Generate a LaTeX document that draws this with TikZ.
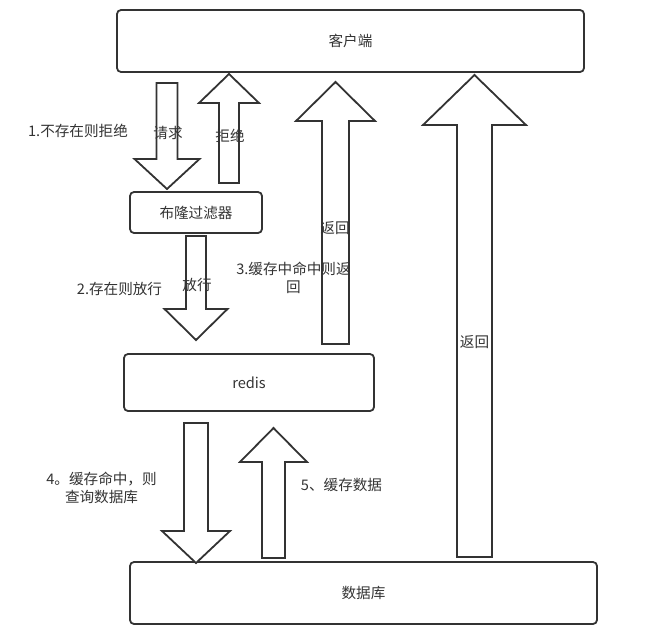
\documentclass[tikz,border=0pt]{standalone}
\usepackage{fontspec}
\setmainfont{Noto Sans CJK SC}
\usetikzlibrary{calc}
\definecolor{inkgray}{HTML}{333333}

% hollow block arrow: from, to, shaft half width, head half width, head length
\newcommand{\blockarrow}[5]{%
  \coordinate (hb) at ($(#2)!#5pt!(#1)$);
  \draw[blk] ($(#1)+(-#3,0)$) -- ($(hb)+(-#3,0)$) -- ($(hb)+(-#4,0)$) -- (#2)
    -- ($(hb)+(#4,0)$) -- ($(hb)+(#3,0)$) -- ($(#1)+(#3,0)$) -- cycle;
}

\begin{document}
\begin{tikzpicture}[
  x=1pt, y=-1pt,
  txt/.style={text=inkgray, font=\fontsize{14.6}{18}\selectfont, inner sep=0pt, align=center},
  box/.style={txt, draw=inkgray, line width=1.8pt, rounded corners=4pt},
  blk/.style={draw=inkgray, line width=1.8pt, line join=miter, fill=white}
]
\useasboundingbox (0,0) rectangle (665,629);

%================================================
% BOXES
%================================================
\node[box, minimum width=467pt, minimum height=62pt] (client) at (350.5,41) {客户端};
\node[box, minimum width=132pt, minimum height=41pt] (bloom) at (196,212.5) {布隆过滤器};
\node[box, minimum width=250pt, minimum height=57pt] (redis) at (249,382.5) {redis};
\node[box, minimum width=467pt, minimum height=62pt] (db) at (363.5,593) {};

%================================================
% ARROW ENDS
%================================================
\coordinate (req-s)  at (167,83);    \coordinate (req-e)  at (167,189);
\coordinate (rej-s)  at (229,183);   \coordinate (rej-e)  at (229,74);
\coordinate (pass-s) at (196,236);   \coordinate (pass-e) at (196,340);
\coordinate (hit-s)  at (335.5,344); \coordinate (hit-e)  at (335.5,82);
\coordinate (ret-s)  at (474.5,557); \coordinate (ret-e)  at (474.5,75);
\coordinate (miss-s) at (196,423);   \coordinate (miss-e) at (196,563);
\coordinate (save-s) at (273.5,558); \coordinate (save-e) at (273.5,428);

\blockarrow{req-s}{req-e}{10.5}{32.5}{30}
\blockarrow{rej-s}{rej-e}{10}{30}{29}
\blockarrow{pass-s}{pass-e}{10}{31.5}{31}
\blockarrow{hit-s}{hit-e}{13.5}{39.5}{39}
\blockarrow{ret-s}{ret-e}{17.5}{51.5}{50}
\blockarrow{miss-s}{miss-e}{12}{34}{32}
\blockarrow{save-s}{save-e}{11.5}{33.5}{34}

%================================================
% LABELS
%================================================
\node[txt] (dblbl)    at (db.center)    {数据库};
\node[txt] (t-reject) at (78,131)    {1.不存在则拒绝};
\node[txt] (t-req)    at (168,133)   {请求};
\node[txt] (t-rej)    at (230,136)   {拒绝};
\node[txt] (t-pass)   at (119.5,289) {2.存在则放行};
\node[txt] (t-passa)  at (197,285)   {放行};
\node[txt] (t-hit)    at (293.5,278) {3.缓存中命中则返\\回};
\node[txt] (t-hita)   at (335,228)   {返回};
\node[txt] (t-reta)   at (474.5,342) {返回};
\node[txt] (t-miss)   at (101.5,488) {4。缓存命中，则\\查询数据库};
\node[txt] (t-save)   at (341.5,485) {5、缓存数据};

\end{tikzpicture}
\end{document}
